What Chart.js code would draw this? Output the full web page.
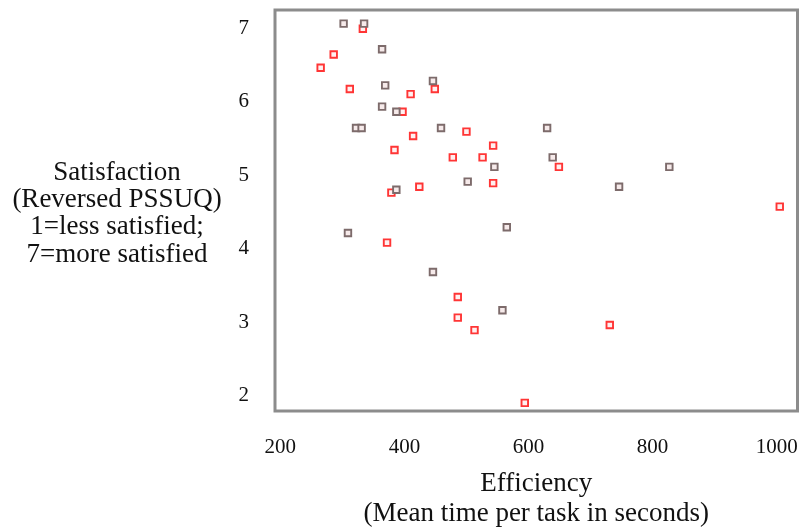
<!DOCTYPE html>
<html>
<head>
<meta charset="utf-8">
<script src="https://cdn.jsdelivr.net/npm/chart.js@4.4.0/dist/chart.umd.min.js"></script>
<style>
  html, body { margin: 0; padding: 0; background: #fff; }
  #wrap { width: 804px; height: 529px; }
</style>
</head>
<body>
<div id="wrap"><canvas id="scatter"></canvas></div>
<script>
// efficiency (mean seconds per task) and satisfaction
const grayX = [302, 335, 364, 369, 446, 364, 387, 322, 331, 459, 545, 502, 387, 630, 639, 827, 746, 309, 446, 558, 565];
const grayY = [7.06, 7.06, 6.71, 6.22, 6.28, 5.93, 5.86, 5.64, 5.64, 5.64, 5.11, 4.91, 4.80, 5.64, 5.24, 5.11, 4.84, 4.21, 3.68, 3.16, 4.29];
const redX = [333, 286, 265, 312, 449, 410, 397, 500, 414, 543, 384, 478, 526, 543, 424, 379, 649, 1005, 372, 486, 486, 513, 731, 594];
const redY = [6.99, 6.64, 6.46, 6.17, 6.17, 6.10, 5.86, 5.59, 5.53, 5.40, 5.34, 5.24, 5.24, 4.89, 4.84, 4.76, 5.11, 4.57, 4.08, 3.34, 3.06, 2.89, 2.96, 1.90];

const xTicks = [200, 400, 600, 800, 1000];
const yTicks = [2, 3, 4, 5, 6, 7];
const xTitleLines = ['Efficiency', '(Mean time per task in seconds)'];
const yTitleLines = ['Satisfaction', '(Reversed PSSUQ)', '1=less satisfied;', '7=more satisfied'];

const serif = "'Liberation Serif', 'Times New Roman', serif";

function pts(xs, ys) {
  return xs.map((x, i) => ({ x: x, y: ys[i] }));
}

// grey frame round the plot + the horizontal y title on the left
const framePlugin = {
  id: 'frame',
  beforeDatasetsDraw(chart) {
    const a = chart.chartArea;
    const ctx = chart.ctx;
    ctx.save();
    ctx.strokeStyle = '#8c8c8c';
    ctx.lineWidth = 3;
    ctx.strokeRect(a.left, a.top, a.right - a.left, a.bottom - a.top);
    ctx.restore();
  },
  afterDraw(chart) {
    const a = chart.chartArea;
    const ctx = chart.ctx;
    ctx.save();
    ctx.font = "27px " + serif;
    ctx.fillStyle = '#111';
    ctx.textAlign = 'center';
    ctx.textBaseline = 'middle';
    const lh = 27.3;
    const mid = (a.top + a.bottom) / 2 + 3;
    yTitleLines.forEach((t, i) => {
      ctx.fillText(t, 117, mid + (i - (yTitleLines.length - 1) / 2) * lh);
    });
    ctx.restore();
  }
};

const config = {
  type: 'scatter',
  data: {
    datasets: [{
      label: 'grey',
      data: pts(grayX, grayY),
      pointStyle: 'rect',
      pointRadius: 4.6,
      pointBorderWidth: 1.9,
      pointBorderColor: '#7d6b6b',
      pointBackgroundColor: '#f6eaea'
    }, {
      label: 'red',
      data: pts(redX, redY),
      pointStyle: 'rect',
      pointRadius: 4.6,
      pointBorderWidth: 1.9,
      pointBorderColor: '#ff3535',
      pointBackgroundColor: '#fff0f0'
    }]
  },
  options: {
    responsive: true,
    maintainAspectRatio: false,
    animation: false,
    layout: { padding: { top: 10, right: 3, left: 0, bottom: 0 } },
    plugins: {
      legend: { display: false },
      tooltip: { enabled: false }
    },
    scales: {
      x: {
        type: 'linear',
        min: 191.4,
        max: 1033.6,
        grid: { display: false },
        border: { display: false },
        afterBuildTicks: s => { s.ticks = xTicks.map(v => ({ value: v })); },
        afterFit: s => { s.height = 118; s.paddingLeft = 0; s.paddingRight = 0; },
        ticks: {
          padding: 16,
          color: '#111',
          callback: v => String(v),
          font: { family: serif, size: 21 }
        },
        title: {
          display: true,
          text: xTitleLines,
          color: '#111',
          padding: { top: 0, bottom: 0 },
          font: { family: serif, size: 27, lineHeight: 1.11 }
        }
      },
      y: {
        type: 'linear',
        min: 1.789,
        max: 7.245,
        grid: { display: false },
        border: { display: false },
        afterBuildTicks: s => { s.ticks = yTicks.map(v => ({ value: v })); },
        afterFit: s => { s.width = 275; s.paddingTop = 0; s.paddingBottom = 0; },
        ticks: {
          padding: 18,
          color: '#111',
          callback: v => String(v),
          font: { family: serif, size: 21 }
        }
      }
    }
  },
  plugins: [framePlugin]
};

new Chart(document.getElementById('scatter'), config);
</script>
</body>
</html>
